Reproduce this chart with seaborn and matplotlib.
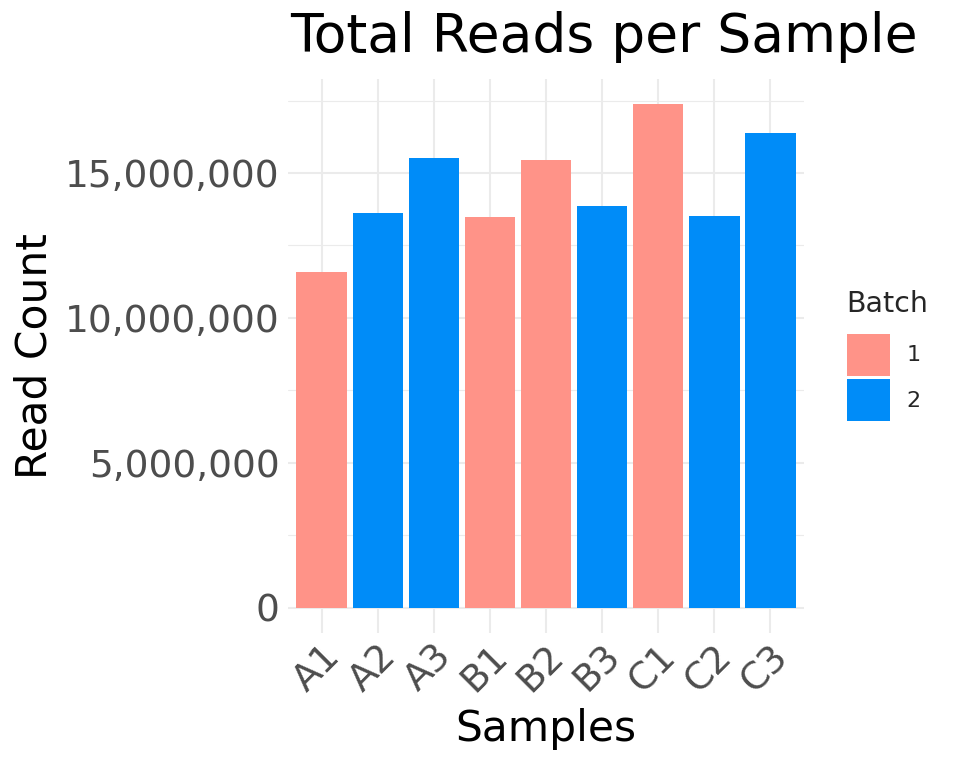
import matplotlib
matplotlib.use("Agg")
import matplotlib.pyplot as plt
import matplotlib.ticker as mticker
from matplotlib.patches import Patch
import seaborn as sns
import pandas as pd

samples = ["A1", "A2", "A3", "B1", "B2", "B3", "C1", "C2", "C3"]
reads = [11580000, 13610000, 15510000, 13470000, 15440000, 13850000, 17370000, 13510000, 16370000]
batch = ["1", "2", "2", "1", "1", "2", "1", "2", "2"]
batch_levels = ["1", "2"]
colors = {"1": "#FF9388", "2": "#008CF8"}

df = pd.DataFrame({"Sample": samples, "Reads": reads, "Batch": batch})

sns.set_theme(style="white")
plt.rcParams["font.family"] = ["DejaVu Sans"]

fig = plt.figure(figsize=(9.6, 7.68), dpi=100)
ax = fig.add_axes([0.3, 0.176, 0.5375, 0.721])

sns.barplot(data=df, x="Sample", y="Reads", hue="Batch", hue_order=batch_levels,
            palette=colors, dodge=False, width=0.9, saturation=1, ax=ax, legend=False,
            linewidth=0, zorder=3)

ymax = max(reads)
ax.set_ylim(-0.05 * ymax, 1.05 * ymax)
ax.set_xlim(-0.6, len(samples) - 0.4)

ax.yaxis.set_major_locator(mticker.MultipleLocator(5000000))
ax.yaxis.set_minor_locator(mticker.MultipleLocator(2500000))
ax.yaxis.set_major_formatter(mticker.FuncFormatter(lambda v, p: f"{int(round(v)):,}"))

ax.grid(True, which="major", axis="both", color="#EBEBEB", linewidth=1.5, zorder=0)
ax.grid(True, which="minor", axis="y", color="#EBEBEB", linewidth=0.8, zorder=0)
ax.set_axisbelow(True)
for s in ax.spines.values():
    s.set_visible(False)
ax.tick_params(axis="both", which="both", length=0, colors="#4D4D4D", labelsize=27)
ax.tick_params(axis="y", pad=6)
ax.tick_params(axis="x", pad=4)
for lbl in ax.get_xticklabels():
    lbl.set_rotation(45)
    lbl.set_ha("right")
    lbl.set_va("top")
    lbl.set_rotation_mode("anchor")

ax.set_xlabel("Samples", fontsize=30.5, color="black", labelpad=6)
ax.set_ylabel("Read Count", fontsize=30.5, color="black")
ax.yaxis.set_label_coords(-0.45, 0.5)
fig.text(0.302, 0.952, "Total Reads per Sample", fontsize=38.5, ha="left", va="center", color="black")

handles = [Patch(facecolor=colors[b], edgecolor="none", label=b) for b in batch_levels]
leg = fig.legend(handles=handles, title="Batch", loc="upper left",
                 bbox_to_anchor=(0.882, 0.622), frameon=False, fontsize=16,
                 title_fontsize=20.5, handlelength=1.95, handleheight=2.55,
                 handletextpad=0.75, labelspacing=0.15, borderaxespad=0, borderpad=0)
leg._legend_box.align = "left"
leg._legend_box.sep = 11

fig.savefig("out.png", dpi=100)
